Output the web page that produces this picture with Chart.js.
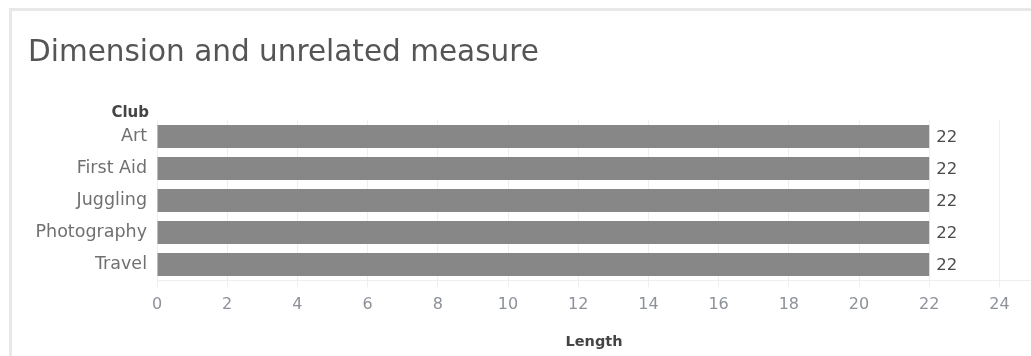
<!DOCTYPE html>
<html>
<head>
<meta charset="utf-8">
<script src="https://cdn.jsdelivr.net/npm/chart.js@4/dist/chart.umd.min.js"></script>
<style>
  html, body { margin: 0; padding: 0; background: #fff; overflow: hidden; }
  #frame { position: absolute; left: 9px; top: 8px; width: 2000px; height: 1000px;
           border-left: 3px solid #e8e8e8; border-top: 3px solid #e8e8e8; }
  #wrap { position: absolute; left: 0; top: 0; width: 1031px; height: 356px; }
</style>
</head>
<body>
<div id="frame"></div>
<div id="wrap"><canvas id="c" width="1031" height="356"></canvas></div>
<script>
const titleText = "Dimension and unrelated measure";
const rowHeader = "Club";
const axisTitle = "Length";
const categories = ["Art", "First Aid", "Juggling", "Photography", "Travel"];
const lengths = [22, 22, 22, 22, 22];
const tickValues = [0, 2, 4, 6, 8, 10, 12, 14, 16, 18, 20, 22, 24];

const FONT = "'DejaVu Sans', sans-serif";

const extras = {
  id: 'extras',
  afterDatasetsDraw(chart) {
    const ctx = chart.ctx;
    const meta = chart.getDatasetMeta(0);
    ctx.save();
    ctx.font = "16.5px " + FONT;
    ctx.fillStyle = "#4a4a4a";
    ctx.textAlign = "left";
    ctx.textBaseline = "middle";
    meta.data.forEach((bar, i) => {
      ctx.fillText(String(chart.data.datasets[0].data[i]), bar.x + 7, bar.y + 1);
    });
    ctx.font = "bold 15px " + FONT;
    ctx.fillStyle = "#444";
    ctx.textAlign = "right";
    ctx.textBaseline = "alphabetic";
    ctx.fillText(rowHeader, chart.chartArea.left - 8, 117);
    ctx.restore();
  }
};

new Chart(document.getElementById('c'), {
  type: 'bar',
  data: {
    labels: categories,
    datasets: [{
      data: lengths,
      backgroundColor: '#878787',
      borderWidth: 0,
      barPercentage: 0.72,
      categoryPercentage: 1.0
    }]
  },
  options: {
    indexAxis: 'y',
    responsive: false,
    animation: false,
    layout: { padding: { left: 28, right: 0, top: 0, bottom: 0 } },
    plugins: {
      legend: { display: false },
      tooltip: { enabled: false },
      title: {
        display: true,
        text: titleText,
        align: 'start',
        color: '#555',
        font: { family: FONT, size: 29.5, weight: 'normal', lineHeight: 1.2 },
        padding: { top: 36, bottom: 49 }
      }
    },
    scales: {
      x: {
        type: 'linear',
        min: 0,
        max: 24.9,
        afterBuildTicks(scale) { scale.ticks = tickValues.map(v => ({ value: v })); },
        afterFit(scale) { scale.height = 75.5; },
        grid: { color: '#efefef', drawTicks: true, tickLength: 7, tickColor: '#efefef' },
        border: { color: '#eeeeee' },
        ticks: { color: '#8d9198', font: { family: FONT, size: 16 }, padding: 8, maxRotation: 0 },
        title: {
          display: true, text: axisTitle, color: '#444',
          font: { family: FONT, size: 14.5, weight: 'bold', lineHeight: 1.2 },
          padding: { top: 0, bottom: 5 }
        }
      },
      y: {
        afterFit(scale) { scale.width = 129; },
        grid: { display: false },
        border: { display: false },
        ticks: { color: '#707070', font: { family: FONT, size: 17.5 }, padding: 2 }
      }
    }
  },
  plugins: [extras]
});
</script>
</body>
</html>
